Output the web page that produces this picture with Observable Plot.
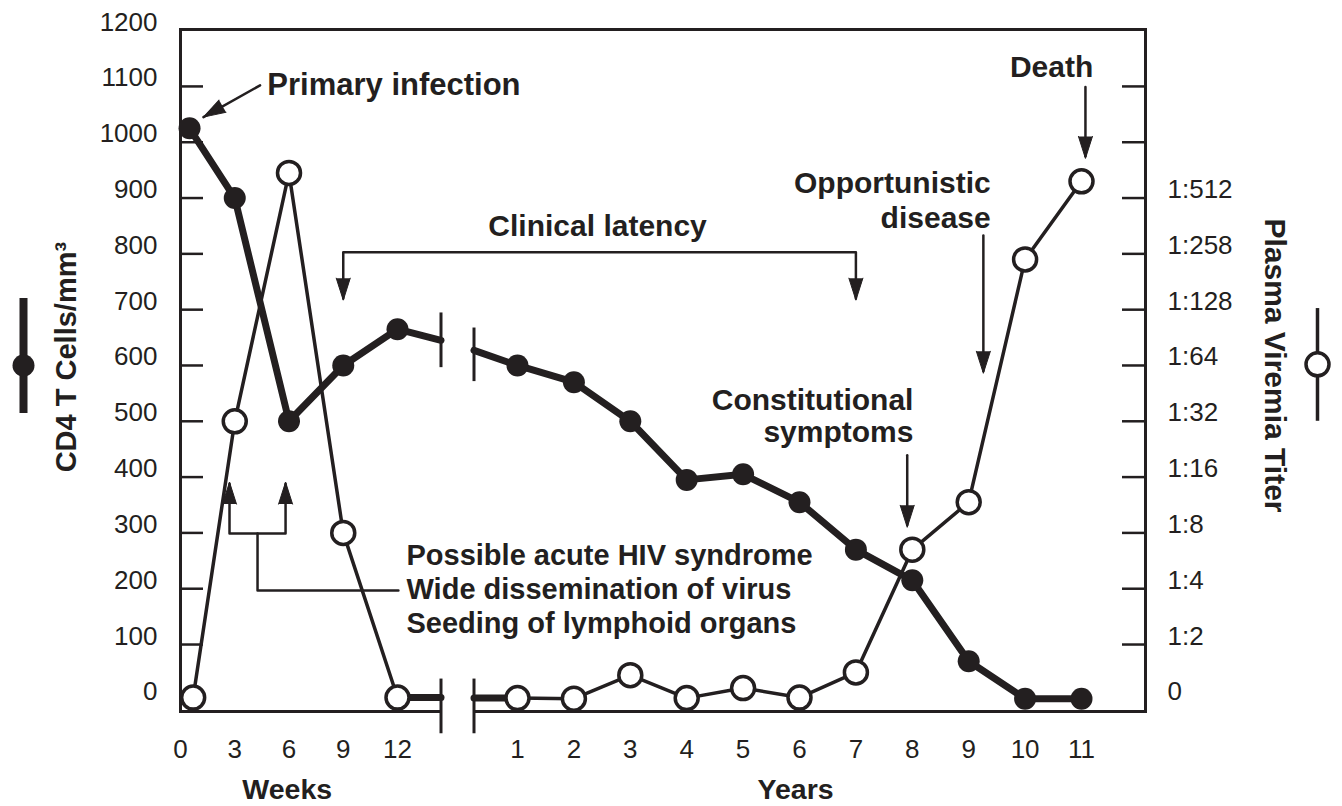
<!DOCTYPE html>
<html>
<head>
<meta charset="utf-8">
<script src="https://cdn.jsdelivr.net/npm/d3@7"></script>
<script src="https://cdn.jsdelivr.net/npm/@observablehq/plot@0.6"></script>
<style>
  html, body { margin: 0; padding: 0; background: #fff; }
  #chart svg { display: block; }
</style>
</head>
<body>
<div id="chart"></div>
<script>
// ---------------- data ----------------
const WEEKS_PER_YEAR = 52;

// CD4 T cells / mm3 (filled circles)
const cd4Weeks = [0.5, 3, 6, 9, 12];
const cd4WeekValues = [1025, 900, 500, 600, 665];
const cd4Years = [1, 2, 3, 4, 5, 6, 7, 8, 9, 10, 11];
const cd4YearValues = [600, 570, 500, 395, 405, 355, 270, 215, 70, 3, 3];

// Plasma viremia titer (open circles), on the same vertical grid
const viremiaWeeks = [0.7, 3, 6, 9, 12];
const viremiaWeekValues = [5, 500, 945, 300, 5];
const viremiaYears = [1, 2, 3, 4, 5, 6, 7, 8, 9, 10, 11];
const viremiaYearValues = [4, 3, 45, 4, 22, 5, 50, 270, 355, 790, 930];

// axis break (in weeks) and the series values where they are cut
const breakWeeks = [26.5, 37.5];
const cd4AtBreak = [645, 627];
const viremiaAtBreak = [5, 4];

// tick labels
const weekTicks = [0, 3, 6, 9, 12];
const yearTicks = [1, 2, 3, 4, 5, 6, 7, 8, 9, 10, 11];
const cd4Ticks = [0, 100, 200, 300, 400, 500, 600, 700, 800, 900, 1000, 1100, 1200];
const innerTicks = [100, 200, 300, 400, 500, 600, 700, 800, 900, 1000, 1100];
const titerLabels = ["0", "1:2", "1:4", "1:8", "1:16", "1:32", "1:64", "1:128", "1:258", "1:512"];

// ---------------- helpers ----------------
const yr = n => n * WEEKS_PER_YEAR;
const ink = "#231f20";

function hasFont(name) {
  const c = document.createElement("canvas").getContext("2d");
  c.font = "40px monospace";
  const a = c.measureText("1200 Wide mmm").width;
  c.font = `40px '${name}', monospace`;
  const b = c.measureText("1200 Wide mmm").width;
  return Math.abs(a - b) > 0.5;
}
const narrowOK = hasFont("Liberation Sans Narrow");
const TICKFONT = narrowOK ? "'Liberation Sans Narrow', 'Liberation Sans', sans-serif" : "'Liberation Sans', Arial, sans-serif";
const TICKSIZE = narrowOK ? 28 : 26;
const BOLD = "'Liberation Sans', Arial, sans-serif";

// ---------------- tables ----------------
const cd4W = cd4Weeks.map((w, i) => ({t: w, v: cd4WeekValues[i], seg: "weeks"}));
const cd4Y = cd4Years.map((y, i) => ({t: yr(y), v: cd4YearValues[i], seg: "years"}));
const cd4Line = [
  ...cd4W, {t: breakWeeks[0], v: cd4AtBreak[0], seg: "weeks"},
  {t: breakWeeks[1], v: cd4AtBreak[1], seg: "years"}, ...cd4Y
];

const virW = viremiaWeeks.map((w, i) => ({t: w, v: viremiaWeekValues[i], seg: "weeks"}));
const virY = viremiaYears.map((y, i) => ({t: yr(y), v: viremiaYearValues[i], seg: "years"}));
const virStubs = [
  {...virW[virW.length - 1], seg: "a"}, {t: breakWeeks[0], v: viremiaAtBreak[0], seg: "a"},
  {t: breakWeeks[1], v: viremiaAtBreak[1], seg: "b"}, {...virY[0], seg: "b"}
];

// annotation layout (data coordinates)
const arrowLines = [
  {g: "prim", t: 4.4, v: 1102}, {g: "prim", t: 1.27, v: 1045},
  {g: "death", t: yr(11.07), v: 1099}, {g: "death", t: yr(11.07), v: 975},
  {g: "opp", t: yr(9.26), v: 833}, {g: "opp", t: yr(9.26), v: 590},
  {g: "con", t: yr(7.91), v: 439}, {g: "con", t: yr(7.91), v: 314},
  {g: "lat", t: 9, v: 720}, {g: "lat", t: 9, v: 803}, {g: "lat", t: yr(7), v: 803}, {g: "lat", t: yr(7), v: 720},
  {g: "hiv", t: 2.71, v: 388}, {g: "hiv", t: 2.71, v: 299}, {g: "hiv", t: 5.81, v: 299}, {g: "hiv", t: 5.81, v: 388},
  {g: "stem", t: 4.26, v: 299}, {g: "stem", t: 4.26, v: 197}, {g: "stem", t: 12.3, v: 197}
];
const arrowHeads = [
  {t: 1.27, v: 1045, rot: 240},
  {t: yr(11.07), v: 971, rot: 180},
  {t: yr(9.26), v: 586, rot: 180},
  {t: yr(7.91), v: 310, rot: 180},
  {t: 9, v: 717, rot: 180},
  {t: yr(7), v: 717, rot: 180},
  {t: 2.71, v: 391, rot: 0},
  {t: 5.81, v: 391, rot: 0}
];
const labelsStart = [
  {text: "Primary infection", t: 4.8, v: 1084, size: 31},
  {text: "Possible acute HIV syndrome", t: 15, v: 242, size: 29},
  {text: "Wide dissemination of virus", t: 15, v: 181, size: 29},
  {text: "Seeding of lymphoid organs", t: 15, v: 120, size: 29}
];
const labelsMiddle = [
  {text: "Death", t: yr(10.47), v: 1116, size: 30},
  {text: "Clinical latency", t: yr(2.42), v: 832, size: 30}
];
const labelsEnd = [
  {text: "Opportunistic", t: yr(9.39), v: 909, size: 30},
  {text: "disease", t: yr(9.39), v: 846, size: 30},
  {text: "Constitutional", t: yr(8.02), v: 520, size: 30},
  {text: "symptoms", t: yr(8.02), v: 462, size: 30}
];
const breakMarks = [
  {t: breakWeeks[0], v1: 695, v2: 597}, {t: breakWeeks[1], v1: 668, v2: 572},
  {t: breakWeeks[0], v1: 39, v2: -59}, {t: breakWeeks[1], v1: 39, v2: -59}
];

// ---------------- chart ----------------
const chart = Plot.plot({
  width: 1342, height: 806,
  marginLeft: 180, marginRight: 197, marginTop: 29, marginBottom: 95,
  style: {background: "#fff", color: ink, overflow: "visible"},
  x: {type: "linear", domain: [0, 12, yr(1), yr(11)], range: [180, 397, 517, 1081], axis: null},
  y: {domain: [-20, 1202], axis: null},
  marks: [
    Plot.frame({stroke: ink, strokeWidth: 3}),
    Plot.rect([0], {x1: breakWeeks[0], x2: breakWeeks[1], y1: -28, y2: -12, fill: "#fff"}),
    Plot.tickY(innerTicks, {y: d => d, insetRight: 942, stroke: ink, strokeWidth: 2.5}),
    Plot.tickY(innerTicks, {y: d => d, insetLeft: 942, stroke: ink, strokeWidth: 2.5}),
    Plot.link(breakMarks, {x1: "t", x2: "t", y1: "v1", y2: "v2", stroke: ink, strokeWidth: 3}),

    // series lines
    Plot.line([...virW, ...virY], {x: "t", y: "v", z: "seg", stroke: ink, strokeWidth: 3.5, strokeLinejoin: "round"}),
    Plot.line(virStubs, {x: "t", y: "v", z: "seg", stroke: ink, strokeWidth: 7}),
    Plot.line(cd4Line, {x: "t", y: "v", z: "seg", stroke: ink, strokeWidth: 7, strokeLinejoin: "round"}),
    Plot.dot([...cd4W, ...cd4Y], {x: "t", y: "v", r: 11, fill: ink, stroke: null}),
    Plot.dot([...virW, ...virY], {x: "t", y: "v", r: 11.5, fill: "#fff", stroke: ink, strokeWidth: 3.5}),

    // annotations
    Plot.line(arrowLines, {x: "t", y: "v", z: "g", stroke: ink, strokeWidth: 2.5}),
    Plot.vector(arrowHeads, {x: "t", y: "v", rotate: "rot", length: 22, r: 7, shape: "spike", anchor: "end", fill: ink, stroke: ink, strokeWidth: 1}),
    Plot.text(labelsStart, {x: "t", y: "v", text: "text", fontSize: "size", textAnchor: "start", lineAnchor: "bottom", fontWeight: "bold", fontFamily: BOLD, fill: ink}),
    Plot.text(labelsMiddle, {x: "t", y: "v", text: "text", fontSize: "size", textAnchor: "middle", lineAnchor: "bottom", fontWeight: "bold", fontFamily: BOLD, fill: ink}),
    Plot.text(labelsEnd, {x: "t", y: "v", text: "text", fontSize: "size", textAnchor: "end", lineAnchor: "bottom", fontWeight: "bold", fontFamily: BOLD, fill: ink}),

    // axes (tick labels)
    Plot.text(cd4Ticks, {y: d => d, text: d => String(d), frameAnchor: "left", dx: -23, textAnchor: "end", lineAnchor: "bottom", fontSize: TICKSIZE, fontFamily: TICKFONT, fill: ink}),
    Plot.text(titerLabels, {y: (d, i) => cd4Ticks[i], text: d => d, frameAnchor: "right", dx: 22, textAnchor: "start", lineAnchor: "bottom", fontSize: TICKSIZE, fontFamily: TICKFONT, fill: ink}),
    Plot.text(weekTicks, {x: d => d, text: d => String(d), frameAnchor: "bottom", dy: 46, textAnchor: "middle", lineAnchor: "bottom", fontSize: TICKSIZE, fontFamily: TICKFONT, fill: ink}),
    Plot.text(yearTicks, {x: d => yr(d), text: d => String(d), frameAnchor: "bottom", dy: 46, textAnchor: "middle", lineAnchor: "bottom", fontSize: TICKSIZE, fontFamily: TICKFONT, fill: ink}),
    Plot.text([{text: "Weeks", t: 5.9}, {text: "Years", t: yr(5.93)}], {x: "t", text: "text", frameAnchor: "bottom", dy: 87, textAnchor: "middle", lineAnchor: "bottom", fontSize: 28.5, fontWeight: "bold", fontFamily: BOLD, fill: ink}),

    // axis titles
    Plot.text(["CD4 T Cells/mm³"], {text: d => d, y: 615, frameAnchor: "left", dx: -114, rotate: -90, textAnchor: "middle", lineAnchor: "middle", fontSize: 29, fontWeight: "bold", fontFamily: BOLD, fill: ink}),
    Plot.text(["Plasma Viremia Titer"], {text: d => d, y: 600, frameAnchor: "right", dx: 129, rotate: 90, textAnchor: "middle", lineAnchor: "middle", fontSize: 30, fontWeight: "bold", fontFamily: BOLD, fill: ink}),

    // legend glyphs
    Plot.ruleX([0], {y1: 514, y2: 720, dx: -157, stroke: ink, strokeWidth: 8}),
    Plot.dot([{t: 0, v: 600}], {x: "t", y: "v", dx: -157, r: 11, fill: ink, stroke: null}),
    Plot.ruleX([yr(11)], {y1: 500, y2: 702, dx: 236, stroke: ink, strokeWidth: 3.5}),
    Plot.dot([{t: yr(11), v: 602}], {x: "t", y: "v", dx: 236, r: 11.5, fill: "#fff", stroke: ink, strokeWidth: 3.5})
  ]
});
document.getElementById("chart").appendChild(chart);
</script>
</body>
</html>
